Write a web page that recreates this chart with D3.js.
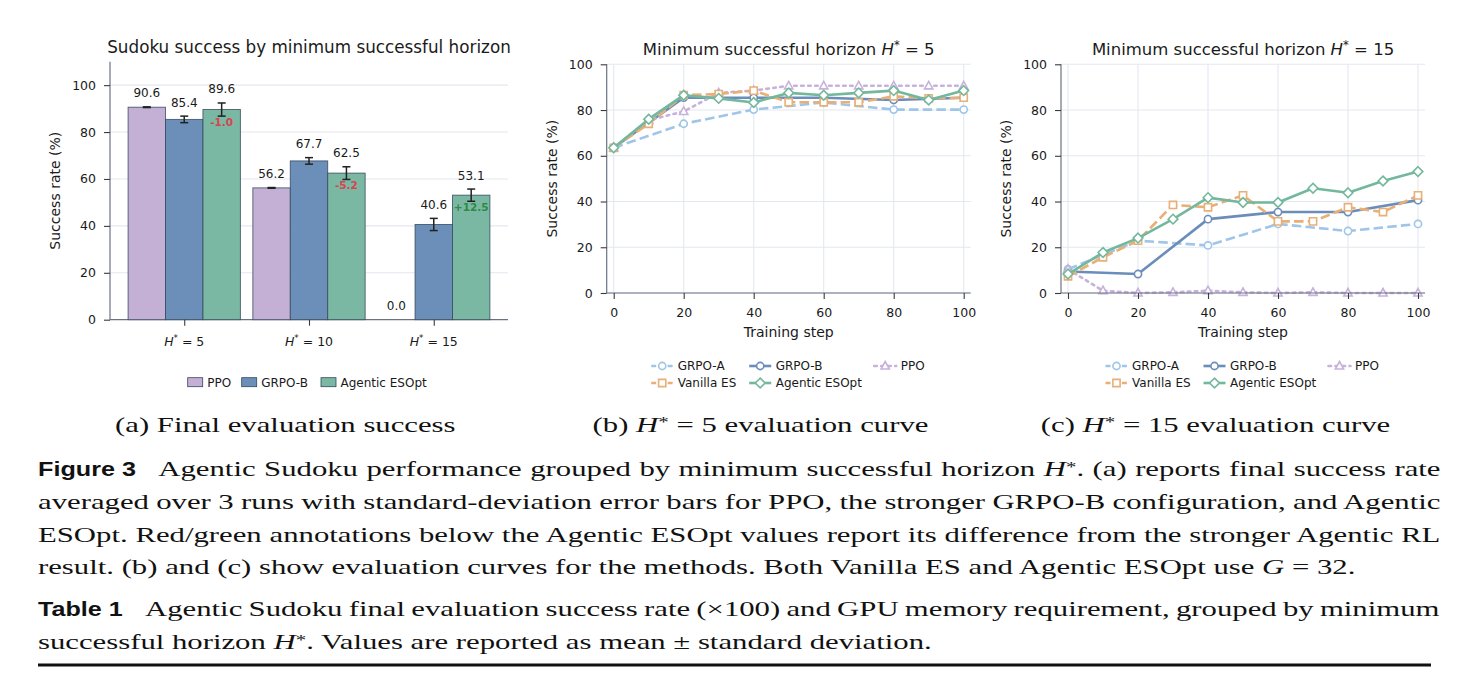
<!DOCTYPE html>
<html><head><meta charset="utf-8">
<script src="https://cdn.jsdelivr.net/npm/d3@7"></script>
<style>
body{margin:0;background:#fff;}
svg{display:block;}
</style></head><body>
<svg id="fig" width="1478" height="676"></svg>
<script>
// ---------------- DATA ----------------
const horizons = [5, 10, 15];
const barMethods = ["PPO", "GRPO-B", "Agentic ESOpt"];
const ppoFinal = [90.6, 56.2, 0.0];
const ppoStd = [0.15, 0.15, 0.0];
const grpoBFinal = [85.4, 67.7, 40.6];
const grpoBStd = [1.4, 1.4, 2.6];
const esoptFinal = [89.6, 62.5, 53.1];
const esoptStd = [2.8, 2.7, 2.6];
const esoptDelta = ["-1.0", "-5.2", "+12.5"];

const yTicksA = [0, 20, 40, 60, 80, 100];
const xTicksCurve = [0, 20, 40, 60, 80, 100];
const yTicksCurve = [0, 20, 40, 60, 80, 100];

const stepsGrpo = [0, 20, 40, 60, 80, 100];
const stepsDense = [0, 10, 20, 30, 40, 50, 60, 70, 80, 90, 100];

// H* = 5 evaluation curves
const h5GrpoA = [63.5, 74.0, 80.2, 83.3, 80.2, 80.2];
const h5GrpoB = [63.5, 85.4, 85.4, 85.4, 84.4, 85.4];
const h5Ppo = [63.5, 75.5, 79.4, 87.5, 88.5, 90.6, 90.6, 90.6, 90.6, 90.6, 90.6];
const h5Vanilla = [63.5, 74.0, 86.5, 87.0, 88.5, 83.4, 83.4, 83.4, 86.0, 85.1, 85.4];
const h5Esopt = [63.5, 76.0, 86.5, 85.1, 83.3, 87.5, 86.5, 87.5, 88.5, 84.4, 88.5];

// H* = 15 evaluation curves
const h15GrpoA = [10.4, 22.9, 20.8, 30.2, 27.1, 30.2];
const h15GrpoB = [9.4, 8.3, 32.3, 35.4, 35.4, 40.6];
const h15Ppo = [10.4, 1.0, 0.0, 0.3, 1.0, 0.3, 0.0, 0.3, 0.0, 0.0, 0.0];
const h15Vanilla = [7.3, 15.6, 22.9, 38.5, 37.5, 42.7, 31.3, 31.3, 37.5, 35.4, 42.7];
const h15Esopt = [8.3, 17.7, 24.0, 32.3, 41.7, 39.6, 39.6, 45.8, 43.8, 49.0, 53.1];

// ---------------- STYLE ----------------
const svg = d3.select('#fig');
const SANS = "'DejaVu Sans', sans-serif";
const SERIF = "'Liberation Serif', serif";
const GRID = "#e3e8f0";
const SPINE = "#6a7282";
const TICK = "#3a3a3a";
const TXT = "#1a1a1a";

const colors = {
  "GRPO-A": "#9fc5e8",
  "GRPO-B": "#6b8dba",
  "PPO": "#c7b2dc",
  "Vanilla ES": "#e8af77",
  "Agentic ESOpt": "#73b89c"
};
const barColors = {"PPO": "#c5b0d5", "GRPO-B": "#6b8fb8", "Agentic ESOpt": "#7ab8a4"};

// helper for math-like label "H* = n"
function hstar(sel, n, size) {
  sel.append('tspan').attr('font-style', 'italic').text('H');
  sel.append('tspan').attr('font-size', size * 0.7).attr('dy', -size * 0.38).text('*');
  sel.append('tspan').attr('dy', size * 0.38).text(' = ' + n);
}

// ---------------- PANEL A ----------------
(function () {
  const ax = {l: 110, r: 508, t: 61.7, b: 319.7};
  const x = d3.scaleLinear().domain([-0.595, 2.595]).range([ax.l, ax.r]);
  const y = d3.scaleLinear().domain([0, 110]).range([ax.b, ax.t]);
  const g = svg.append('g');

  g.selectAll('line.grid').data(yTicksA.filter(d => d > 0)).join('line')
    .attr('x1', ax.l).attr('x2', ax.r).attr('y1', d => y(d)).attr('y2', d => y(d))
    .attr('stroke', GRID).attr('stroke-width', 1.1);

  const series = [
    {name: "PPO", vals: ppoFinal, std: ppoStd},
    {name: "GRPO-B", vals: grpoBFinal, std: grpoBStd},
    {name: "Agentic ESOpt", vals: esoptFinal, std: esoptStd}
  ];
  const bw = 0.3;
  // spines first so zero-height bar outline stays visible
  g.append('line').attr('x1', ax.l).attr('x2', ax.l).attr('y1', ax.t).attr('y2', ax.b).attr('stroke', SPINE).attr('stroke-width', 1.2);
  g.append('line').attr('x1', ax.l).attr('x2', ax.r).attr('y1', ax.b).attr('y2', ax.b).attr('stroke', SPINE).attr('stroke-width', 1.2);
  series.forEach((s, j) => {
    s.vals.forEach((v, i) => {
      const xc = i + (j - 1) * bw;
      g.append('rect')
        .attr('x', x(xc - bw / 2)).attr('width', x(xc + bw / 2) - x(xc - bw / 2))
        .attr('y', y(v)).attr('height', y(0) - y(v))
        .attr('fill', barColors[s.name]).attr('stroke', '#34465c').attr('stroke-width', 0.9)
        .attr('stroke-opacity', 0.85);
    });
  });
  // error bars
  series.forEach((s, j) => {
    s.vals.forEach((v, i) => {
      const xc = x(i + (j - 1) * bw);
      if (v <= 0) return;
      const y1 = y(v + s.std[i]), y2 = y(v - s.std[i]);
      g.append('line').attr('x1', xc).attr('x2', xc).attr('y1', y1).attr('y2', y2).attr('stroke', '#222').attr('stroke-width', 1.5);
      [y1, y2].forEach(yy => g.append('line').attr('x1', xc - 4).attr('x2', xc + 4).attr('y1', yy).attr('y2', yy).attr('stroke', '#222').attr('stroke-width', 1.5));
    });
  });
  // value labels
  series.forEach((s, j) => {
    s.vals.forEach((v, i) => {
      const xc = x(i + (j - 1) * bw);
      g.append('text').attr('x', xc).attr('y', y(v + s.std[i]) - 9.5)
        .attr('text-anchor', 'middle').attr('font-family', SANS).attr('font-size', 12).attr('fill', TXT)
        .text(v.toFixed(1));
    });
  });
  // delta annotations
  esoptDelta.forEach((d, i) => {
    const xc = x(i + bw);
    const v = esoptFinal[i], sd = esoptStd[i];
    g.append('text').attr('x', xc).attr('y', y(v - sd) + 10)
      .attr('text-anchor', 'middle').attr('font-family', SANS).attr('font-size', 10.5).attr('font-weight', 'bold')
      .attr('fill', d.startsWith('-') ? '#d9434d' : '#2e8b45').text(d);
  });

  // y axis
  const ya = g.append('g').attr('transform', `translate(${ax.l},0)`)
    .call(d3.axisLeft(y).tickValues(yTicksA).tickSize(6).tickPadding(8).tickSizeOuter(0));
  ya.select('.domain').remove();
  ya.selectAll('line').attr('stroke', TICK).attr('stroke-width', 1.1);
  ya.selectAll('text').attr('font-family', SANS).attr('font-size', 12.5).attr('fill', TXT);

  // x axis with custom labels
  const xa = g.append('g').attr('transform', `translate(0,${ax.b})`)
    .call(d3.axisBottom(x).tickValues([0, 1, 2]).tickSize(6).tickFormat(() => '').tickSizeOuter(0));
  xa.select('.domain').remove();
  xa.selectAll('line').attr('stroke', TICK).attr('stroke-width', 1.1);
  horizons.forEach((h, i) => {
    const t = g.append('text').attr('x', x(i)).attr('y', 346).attr('text-anchor', 'middle')
      .attr('font-family', SANS).attr('font-size', 12.5).attr('fill', TXT);
    hstar(t, h, 12.5);
  });

  // y label
  g.append('text').attr('transform', `translate(55,${(ax.t + ax.b) / 2}) rotate(-90)`)
    .attr('text-anchor', 'middle').attr('dy', '0.35em').attr('font-family', SANS).attr('font-size', 14).attr('fill', TXT)
    .text('Success rate (%)');
  // title
  g.append('text').attr('x', (ax.l + ax.r) / 2).attr('y', 53).attr('text-anchor', 'middle')
    .attr('font-family', SANS).attr('font-size', 16.8).attr('fill', TXT)
    .text('Sudoku success by minimum successful horizon');

  // legend
  const legX = [187.7, 241.7, 321];
  barMethods.forEach((m, k) => {
    g.append('rect').attr('x', legX[k]).attr('y', 377.7).attr('width', 15).attr('height', 9)
      .attr('fill', barColors[m]).attr('stroke', '#34465c').attr('stroke-width', 0.8);
    g.append('text').attr('x', legX[k] + 19.5).attr('y', 386.8).attr('font-family', SANS)
      .attr('font-size', 12).attr('fill', TXT).text(m);
  });
})();

// ---------------- PANELS B, C ----------------
const lineStyle = {
  "GRPO-A": {dash: "9.5,4.2", marker: "circle"},
  "GRPO-B": {dash: null, marker: "circle"},
  "PPO": {dash: "2.6,4.4", marker: "triangle"},
  "Vanilla ES": {dash: "9.5,4.2", marker: "square"},
  "Agentic ESOpt": {dash: null, marker: "diamond"}
};
function markerPath(type) {
  const r = 3.6;
  if (type === 'circle') return `M${r},0A${r},${r} 0 1,1 ${-r},0A${r},${r} 0 1,1 ${r},0Z`;
  if (type === 'square') return `M${-r},${-r}h${2 * r}v${2 * r}h${-2 * r}Z`;
  if (type === 'diamond') { const d = r * 1.35; return `M0,${-d}L${d},0L0,${d}L${-d},0Z`; }
  if (type === 'triangle') return `M0,${-r * 1.25}L${r * 1.15},${r * 0.85}L${-r * 1.15},${r * 0.85}Z`;
}

function curvePanel(opt) {
  const ax = opt.ax;
  const x = d3.scaleLinear().domain([-2, 102]).range([ax.l, ax.r]);
  const y = d3.scaleLinear().domain([0, 100]).range([ax.b, ax.t]);
  const g = svg.append('g');
  // grid
  g.selectAll('line.gy').data(yTicksCurve).join('line')
    .attr('x1', ax.l).attr('x2', ax.r).attr('y1', d => y(d)).attr('y2', d => y(d))
    .attr('stroke', GRID).attr('stroke-width', 1.1);
  g.selectAll('line.gx').data(xTicksCurve).join('line')
    .attr('x1', d => x(d)).attr('x2', d => x(d)).attr('y1', ax.t).attr('y2', ax.b)
    .attr('stroke', GRID).attr('stroke-width', 1.1);

  const line = d3.line().x(d => x(d[0])).y(d => y(d[1]));
  opt.series.forEach(s => {
    const pts = s.steps.map((st, i) => [st, s.vals[i]]);
    const st = lineStyle[s.name];
    g.append('path').attr('d', line(pts)).attr('fill', 'none').attr('stroke', colors[s.name])
      .attr('stroke-width', 2.6).attr('stroke-dasharray', st.dash).attr('stroke-linejoin', 'round')
      .attr('stroke-linecap', st.dash && st.dash.startsWith('2.6') ? 'round' : 'butt');
    g.selectAll(null).data(pts).join('path')
      .attr('transform', d => `translate(${x(d[0])},${y(d[1])})`)
      .attr('d', markerPath(st.marker)).attr('fill', '#fff').attr('stroke', colors[s.name]).attr('stroke-width', 1.6);
  });

  // spines
  g.append('line').attr('x1', ax.l).attr('x2', ax.l).attr('y1', ax.t).attr('y2', ax.b).attr('stroke', SPINE).attr('stroke-width', 1.2);
  g.append('line').attr('x1', ax.l).attr('x2', ax.r).attr('y1', ax.b).attr('y2', ax.b).attr('stroke', SPINE).attr('stroke-width', 1.2);

  const ya = g.append('g').attr('transform', `translate(${ax.l},0)`)
    .call(d3.axisLeft(y).tickValues(yTicksCurve).tickSize(6).tickPadding(8).tickSizeOuter(0));
  ya.select('.domain').remove();
  ya.selectAll('line').attr('stroke', TICK).attr('stroke-width', 1.1);
  ya.selectAll('text').attr('font-family', SANS).attr('font-size', 12.5).attr('fill', TXT);

  const xa = g.append('g').attr('transform', `translate(0,${ax.b})`)
    .call(d3.axisBottom(x).tickValues(xTicksCurve).tickSize(6).tickPadding(9.4).tickSizeOuter(0));
  xa.select('.domain').remove();
  xa.selectAll('line').attr('stroke', TICK).attr('stroke-width', 1.1);
  xa.selectAll('text').attr('font-family', SANS).attr('font-size', 12.5).attr('fill', TXT);

  g.append('text').attr('x', (ax.l + ax.r) / 2).attr('y', 337).attr('text-anchor', 'middle')
    .attr('font-family', SANS).attr('font-size', 14).attr('fill', TXT).text('Training step');
  g.append('text').attr('transform', `translate(${opt.ylabX},${(ax.t + ax.b) / 2}) rotate(-90)`)
    .attr('text-anchor', 'middle').attr('dy', '0.35em').attr('font-family', SANS).attr('font-size', 14).attr('fill', TXT)
    .text('Success rate (%)');
  const tt = g.append('text').attr('x', (ax.l + ax.r) / 2).attr('y', 55).attr('text-anchor', 'middle')
    .attr('font-family', SANS).attr('font-size', 16.5).attr('fill', TXT);
  tt.append('tspan').text('Minimum successful horizon ');
  hstar(tt, opt.h, 16.5);

  // legend (3 columns, 2 rows)
  const legend = [
    {name: "GRPO-A", col: 0, row: 0}, {name: "GRPO-B", col: 1, row: 0}, {name: "PPO", col: 2, row: 0},
    {name: "Vanilla ES", col: 0, row: 1}, {name: "Agentic ESOpt", col: 1, row: 1}
  ];
  const colX = [44.5, 142.5, 267.5];
  const rowY = [366, 383];
  legend.forEach(e => {
    const x0 = ax.l + colX[e.col], yy = rowY[e.row];
    const st = lineStyle[e.name];
    g.append('line').attr('x1', x0).attr('x2', x0 + 22).attr('y1', yy).attr('y2', yy)
      .attr('stroke', colors[e.name]).attr('stroke-width', 2.6).attr('stroke-dasharray', st.dash ? (st.dash.startsWith('2.6') ? '2.6,4.4' : '5,3.2') : null)
      .attr('stroke-linecap', st.dash && st.dash.startsWith('2.6') ? 'round' : 'butt');
    g.append('path').attr('transform', `translate(${x0 + 11},${yy})`).attr('d', markerPath(st.marker))
      .attr('fill', '#fff').attr('stroke', colors[e.name]).attr('stroke-width', 1.6);
    g.append('text').attr('x', x0 + 26.5).attr('y', yy + 4.4).attr('font-family', SANS).attr('font-size', 12)
      .attr('fill', TXT).text(e.name);
  });
}

curvePanel({
  ax: {l: 606.7, r: 970.7, t: 64.3, b: 293}, ylabX: 552, h: 5,
  series: [
    {name: "GRPO-A", steps: stepsGrpo, vals: h5GrpoA},
    {name: "GRPO-B", steps: stepsGrpo, vals: h5GrpoB},
    {name: "PPO", steps: stepsDense, vals: h5Ppo},
    {name: "Vanilla ES", steps: stepsDense, vals: h5Vanilla},
    {name: "Agentic ESOpt", steps: stepsDense, vals: h5Esopt}
  ]
});
curvePanel({
  ax: {l: 1061, r: 1425, t: 64.3, b: 293}, ylabX: 1006.5, h: 15,
  series: [
    {name: "GRPO-A", steps: stepsGrpo, vals: h15GrpoA},
    {name: "GRPO-B", steps: stepsGrpo, vals: h15GrpoB},
    {name: "PPO", steps: stepsDense, vals: h15Ppo},
    {name: "Vanilla ES", steps: stepsDense, vals: h15Vanilla},
    {name: "Agentic ESOpt", steps: stepsDense, vals: h15Esopt}
  ]
});

// ---------------- CAPTIONS ----------------
const CFS = 21.5;
function addSegs(t, segs) {
  segs.forEach(s => {
    const ts = t.append('tspan').text(s.t);
    if (s.it) ts.attr('font-style', 'italic');
    if (s.sup) ts.attr('font-size', CFS * 0.68).attr('dy', -CFS * 0.2);
    if (s.down) ts.attr('dy', CFS * 0.2);
  });
}
function makeLine(segs) {
  const g = svg.append('g');
  const t = g.append('text').attr('font-family', SERIF).attr('font-size', CFS).attr('fill', '#111');
  addSegs(t, segs);
  return {g, t, w: t.node().getComputedTextLength(), n: segs.map(s => s.t).join('').split(' ').length - 1};
}
function Hs(after) { return [{t: 'H', it: true}, {t: '*', sup: true}, {t: after, down: true}]; }

// reference scale from the unjustified last line of the figure caption
const L4 = makeLine([{t: 'result. (b) and (c) show evaluation curves for the methods. Both Vanilla ES and Agentic ESOpt use '},
  {t: 'G', it: true}, {t: ' = 32.'}]);
const S = (1356 - 38) / L4.w;
L4.g.attr('transform', `translate(38,574.3) scale(${S},1)`);

function justified(segs, x0, x1, y) {
  const L = makeLine(segs);
  const ws = ((x1 - x0) / S - L.w) / L.n;
  L.t.attr('word-spacing', ws);
  L.g.attr('transform', `translate(${x0},${y}) scale(${S},1)`);
}
function plain(segs, x0, y, anchor) {
  const L = makeLine(segs);
  if (anchor) L.t.attr('text-anchor', anchor);
  L.g.attr('transform', `translate(${x0},${y}) scale(${S},1)`);
}
function boldLabel(txt, x0, y, width) {
  const g = svg.append('g');
  const t = g.append('text').attr('font-family', "'Liberation Sans', sans-serif").attr('font-weight', 'bold')
    .attr('font-size', 21).attr('fill', '#111').text(txt);
  const sc = width / t.node().getComputedTextLength();
  g.attr('transform', `translate(${x0},${y}) scale(${sc},1)`);
}

// sub-captions
plain([{t: '(a) Final evaluation success'}], 285.3, 431.7, 'middle');
plain([{t: '(b) '}].concat(Hs(' = 5 evaluation curve')), 760.5, 431.7, 'middle');
plain([{t: '(c) '}].concat(Hs(' = 15 evaluation curve')), 1215.5, 431.7, 'middle');

// Figure caption
boldLabel('Figure 3', 38, 476, 98);
justified([{t: 'Agentic Sudoku performance grouped by minimum successful horizon '}].concat(Hs('. (a) reports final success rate')), 158.3, 1441, 476);
justified([{t: 'averaged over 3 runs with standard-deviation error bars for PPO, the stronger GRPO-B configuration, and Agentic'}], 38, 1441, 509);
justified([{t: 'ESOpt. Red/green annotations below the Agentic ESOpt values report its difference from the stronger Agentic RL'}], 38, 1441, 541.7);

// Table caption
boldLabel('Table 1', 38, 616, 84.7);
justified([{t: 'Agentic Sudoku final evaluation success rate (\u00d7100) and GPU memory requirement, grouped by minimum'}], 145, 1440, 616);
plain([{t: 'successful horizon '}].concat(Hs('. Values are reported as mean \u00b1 standard deviation.')), 38, 649);

// bottom rule
svg.append('rect').attr('x', 38).attr('y', 663.5).attr('width', 1393).attr('height', 3).attr('fill', '#111');
</script>
</body></html>
